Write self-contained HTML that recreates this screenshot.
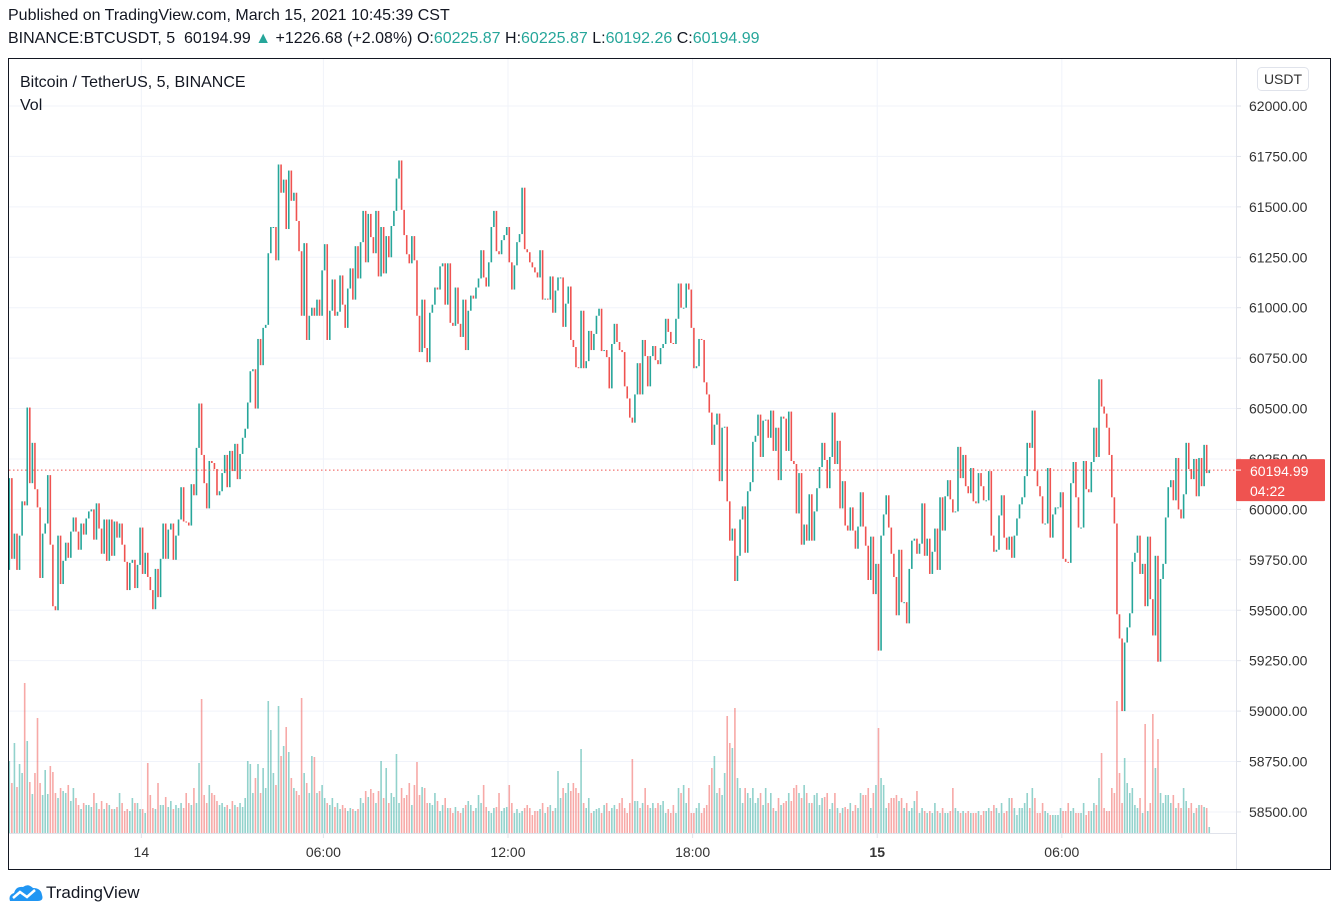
<!DOCTYPE html>
<html><head><meta charset="utf-8"><title>BTCUSDT 5m</title>
<style>
html,body{margin:0;padding:0;background:#fff;width:1339px;height:919px;overflow:hidden;font-family:"Liberation Sans",sans-serif;}
#hdr1{position:absolute;left:8px;top:7px;font-size:16px;color:#131722;}
#hdr2{position:absolute;left:8px;top:30px;font-size:16px;color:#131722;white-space:pre;}
.g{color:#26a69a}
#logo{position:absolute;left:8px;top:883px;font-size:17px;color:#131722;display:flex;align-items:center;}
svg{position:absolute;left:0;top:0;}
</style></head><body>
<div id="hdr1">Published on TradingView.com, March 15, 2021 10:45:39 CST</div>
<div id="hdr2">BINANCE:BTCUSDT, 5  60194.99 <span class="g">▲</span> +1226.68 (+2.08%) O:<span class="g">60225.87</span> H:<span class="g">60225.87</span> L:<span class="g">60192.26</span> C:<span class="g">60194.99</span></div>
<svg id="chart" width="1339" height="919"></svg>
<div id="logo"><svg width="36" height="20" style="position:static" viewBox="0 0 36 20"><path d="M2 18 Q0 12 6 10 Q8 3 15 4 Q20 0 25 5 Q33 5 34 12 Q36 18 30 18 Z" fill="#2196f3"/><polyline points="5,15 12,9 19,14 27,7" fill="none" stroke="#fff" stroke-width="2.5"/></svg><span style="margin-left:2px">TradingView</span></div>
<script>
const openFirst = 59700;
const closes = [
60155,59755,59880,59700,59870,60040,60020,60505,60130,60330,60100,60010,59660,59880,59930,60170,59825,59520,
59500,59870,59630,59745,59835,59760,59890,59960,59890,59800,
59930,59875,59955,59990,60000,59850,60030,
59905,59780,59950,59745,59950,59770,59940,59860,59930,59825,
59740,59600,59735,59750,59610,59725,59910,59680,59785,59665,
59600,59505,59705,59565,59755,59930,59755,59900,59930,59750,
59870,59950,60110,59940,59935,59920,60125,60070,60305,60525,
60270,60130,60005,60240,60230,60200,60070,60090,60180,60270,
60110,60290,60190,60325,60150,60275,60355,60400,60530,60685,
60695,60500,60845,60715,60900,60915,61270,61400,61400,61235,
61710,61570,61635,61390,61680,61530,61570,61430,61280,60960,
61320,60840,60960,61000,60960,61040,60960,61185,61315,60840,
60985,61140,60960,60980,61160,61015,60900,61095,61195,61040,
61305,61145,61325,61480,61225,61465,61350,61270,61480,61155,
61400,61170,61355,61250,61405,61480,61640,61730,61485,61360,
61265,61220,61355,61235,60960,60780,61040,60800,60730,
60975,61015,61100,61090,61205,61220,61015,61220,60925,60910,
61100,60920,60855,61040,60790,60985,61060,61045,61100,61145,
61285,61150,61105,61225,61400,61480,61280,61265,61335,61360,
61400,61225,61090,61210,61325,61365,61595,61290,61275,61225,
61200,61175,61150,61285,61040,61045,61040,61155,60975,61085,
61150,61150,60905,61020,61105,60840,60805,60705,60700,60985,
60700,60735,60885,60790,60870,60960,60995,60785,60790,60755,
60600,60820,60920,60830,60790,60780,60610,60550,60455,60430,
60570,60725,60570,60840,60760,60610,60760,60810,60740,60720,
60800,60820,60945,60880,60825,60820,60945,61120,61000,61000,
61120,61090,60900,60700,60710,60845,60840,60630,60570,60480,
60320,60420,60475,60140,60405,60410,60040,59845,59905,59645,
59770,59950,60015,59785,60090,60135,60335,60365,60470,60260,
60440,60445,60355,60490,60290,60405,60145,60460,60450,60290,
60485,60240,60225,59980,60180,59825,59925,59845,60075,59845,
59990,60105,60210,60330,60245,60105,60260,60480,60225,60340,
60005,60140,59920,59895,60010,59895,59805,59915,60085,59915,
59820,59650,59865,59580,59730,59300,59870,59975,60070,59910,
59780,59665,59475,59800,59540,59540,59435,59705,59845,59855,
59780,59830,60030,59770,59855,59680,59790,59905,59700,60060,
59895,60065,60145,60050,59985,59990,60310,60155,60270,60115,
60080,60205,60040,60030,60180,60115,60045,60045,60190,59870,
59790,59800,59970,60070,59860,59800,59865,59760,59870,59955,
60025,60060,60165,60330,60305,60490,60190,60115,60065,59930,
59930,60205,59860,59975,60010,60010,60085,59755,59740,59735,
60130,60235,60060,59910,59910,60240,60100,60085,60235,60405,
60260,60645,60510,60475,60405,60270,60060,59930,59480,59360,
59000,59340,59415,59485,59740,59785,59870,59680,59730,59520,
59865,59555,59375,59770,59245,59655,59730,59960,60110,60145,
60045,60255,60000,59955,60075,60330,60200,60150,60250,60065,
60255,60115,60320,60180,60195
];
const volumes = [
72,50,90,46,69,60,150,92,51,39,60,115,50,38,63,39,67,61,
40,35,45,42,40,48,32,45,35,28,24,30,28,28,26,40,30,24,32,24,
30,28,24,24,26,40,30,22,24,22,35,30,30,24,24,20,70,38,25,24,
50,28,28,36,26,32,24,28,25,30,25,40,30,28,45,30,70,134,38,30,
48,40,38,32,28,30,26,28,24,32,28,26,30,26,35,72,69,40,55,69,
40,65,45,132,103,60,48,127,77,87,106,81,55,45,42,38,135,60,50,40,
77,76,40,42,48,35,30,28,35,26,30,24,28,25,22,25,24,22,24,35,
30,42,36,44,40,30,42,72,35,65,30,40,36,79,30,45,35,38,50,28,
48,71,38,46,45,30,
30,28,40,32,22,28,35,25,25,20,26,22,20,25,28,32,28,22,25,38,
30,48,26,22,20,25,26,40,22,25,26,48,30,20,24,20,22,25,28,25,
18,22,22,24,30,20,26,28,22,25,62,35,45,40,50,42,50,45,40,84,
30,25,35,20,22,24,25,20,28,30,22,25,28,24,30,35,25,20,30,74,
32,32,25,30,45,28,25,30,25,30,28,32,20,24,20,28,20,45,40,48,
30,45,20,20,25,30,20,25,28,48,65,77,40,45,38,60,117,90,85,125,
55,45,30,45,40,35,45,30,35,40,28,45,30,40,25,22,35,28,30,32,
40,32,45,48,40,35,48,40,30,30,38,40,28,35,36,40,24,30,40,25,
20,25,26,24,30,22,28,25,40,38,38,45,25,40,48,105,55,48,25,30,
35,35,38,32,35,25,30,22,25,32,42,20,25,22,20,22,20,30,22,20,
25,20,20,22,45,25,22,20,22,20,22,20,20,20,22,18,22,22,25,22,
28,25,20,30,20,22,35,35,25,18,25,25,30,40,25,45,35,20,20,30,
22,20,18,18,18,18,25,22,22,30,22,25,20,20,20,30,18,22,22,30,
28,55,80,25,22,22,45,40,132,60,30,75,50,40,45,28,25,35,20,109,
22,30,119,65,94,40,30,38,38,30,38,25,30,25,45,32,25,30,20,25,
28,28,26,25,6
];
const priceTicks = [62000,61750,61500,61250,61000,60750,60500,60250,60000,59750,59500,59250,59000,58750,58500];
const timeLabels = ["14","06:00","12:00","18:00","15","06:00"];
const timeIdx = [51.5,122.5,194.5,266.5,338.5,410.5];
const lastPrice = 60194.99;

const NS="http://www.w3.org/2000/svg";
const svg=document.getElementById('chart');
const L=9, R=1236, T=59, PB=833, B=869;
const yScale=p=>106+(62000-p)*0.2017;
const xScale=i=>9.3+i*2.564;
const vScale=v=>v*1.0;
function el(tag,attrs,parent){const e=document.createElementNS(NS,tag);for(const k in attrs)e.setAttribute(k,attrs[k]);(parent||svg).appendChild(e);return e;}

// grid
const grid=el('g',{});


priceTicks.forEach(p=>{const y=yScale(p);el('line',{x1:L,x2:R,y1:y,y2:y,stroke:'#f0f3fa','stroke-width':1},grid);});
timeIdx.forEach(i=>{const x=xScale(i);el('line',{x1:x,x2:x,y1:T,y2:PB,stroke:'#f0f3fa','stroke-width':1},grid);});

// volume
const vg=el('g',{});


for(let i=0;i<closes.length;i++){
  const o=i?closes[i-1]:openFirst, c=closes[i], v=volumes[i]||0;
  const up=c>=o, h=vScale(v);
  const r=el('rect',{x:xScale(i)-0.8,y:PB-h,width:1.6,height:h,fill:up?'rgba(38,166,154,0.5)':'rgba(239,83,80,0.5)'},vg);
  
  
}
// candles
const cg=el('g',{});


for(let i=0;i<closes.length;i++){
  const o=i?closes[i-1]:openFirst, c=closes[i];
  const up=c>=o;
  const y1=yScale(Math.max(o,c)), y2=yScale(Math.min(o,c));
  const r=el('rect',{x:xScale(i)-0.8,y:y1,width:1.6,height:Math.max(1,y2-y1),fill:up?'#26a69a':'#ef5350'},cg);
  
  
}
// last price line
const ly=yScale(lastPrice);
const lpl=el('line',{x1:L,x2:R,y1:ly,y2:ly,stroke:'#ef5350','stroke-width':1,'stroke-dasharray':'1.5,2.5'});



// axes lines
el('line',{x1:R+0.5,x2:R+0.5,y1:T,y2:B,stroke:'#e0e3eb','stroke-width':1});
el('line',{x1:L,x2:R,y1:PB+0.5,y2:PB+0.5,stroke:'#e0e3eb','stroke-width':1});
// price labels
const pa=el('g',{});


priceTicks.forEach(p=>{const y=yScale(p);
  el('line',{x1:R,x2:R+5,y1:y,y2:y,stroke:'#e0e3eb'},pa);
  const t=el('text',{x:1249,y:y+5,'font-size':14,fill:'#333','font-family':'Liberation Sans, sans-serif'},pa);
  t.textContent=p.toFixed(2);
  
  
});
// time labels
const ta=el('g',{});


timeLabels.forEach((s,k)=>{const x=xScale(timeIdx[k]);
  el('line',{x1:x,x2:x,y1:PB,y2:PB+5,stroke:'#e0e3eb'},ta);
  const t=el('text',{x:x,y:857,'font-size':14,fill:'#333','text-anchor':'middle','font-weight':s==='15'?'bold':'normal','font-family':'Liberation Sans, sans-serif'},ta);
  t.textContent=s;
  
  
});
// last price badge
const bg=el('g',{});


el('rect',{x:R,y:ly-11,width:89,height:42,fill:'#ef5350',rx:1},bg);
el('line',{x1:R,x2:R+5,y1:ly,y2:ly,stroke:'#fff'},bg);
const b1=el('text',{x:1250,y:ly+6,'font-size':14,fill:'#fff','font-family':'Liberation Sans, sans-serif'},bg);b1.textContent=lastPrice.toFixed(2);
const b2=el('text',{x:1250,y:ly+26,'font-size':14,fill:'#fff','font-family':'Liberation Sans, sans-serif'},bg);b2.textContent='04:22';
// USDT button
const ub=el('g',{});


el('rect',{x:1257.5,y:67.5,width:51,height:23,rx:4,fill:'#fff',stroke:'#e0e3eb'},ub);
const ut=el('text',{x:1283,y:84,'font-size':14,fill:'#333','text-anchor':'middle','font-family':'Liberation Sans, sans-serif'},ub);ut.textContent='USDT';
// legend
const lg1=el('text',{x:20,y:87,'font-size':16,fill:'#131722','font-family':'Liberation Sans, sans-serif'});lg1.textContent='Bitcoin / TetherUS, 5, BINANCE';


const lg2=el('text',{x:20,y:110,'font-size':16,fill:'#131722','font-family':'Liberation Sans, sans-serif'});lg2.textContent='Vol';


// border
const bd=el('rect',{x:8.5,y:58.5,width:1322,height:811,fill:'none',stroke:'#131722','stroke-width':1});


</script>
</body></html>
